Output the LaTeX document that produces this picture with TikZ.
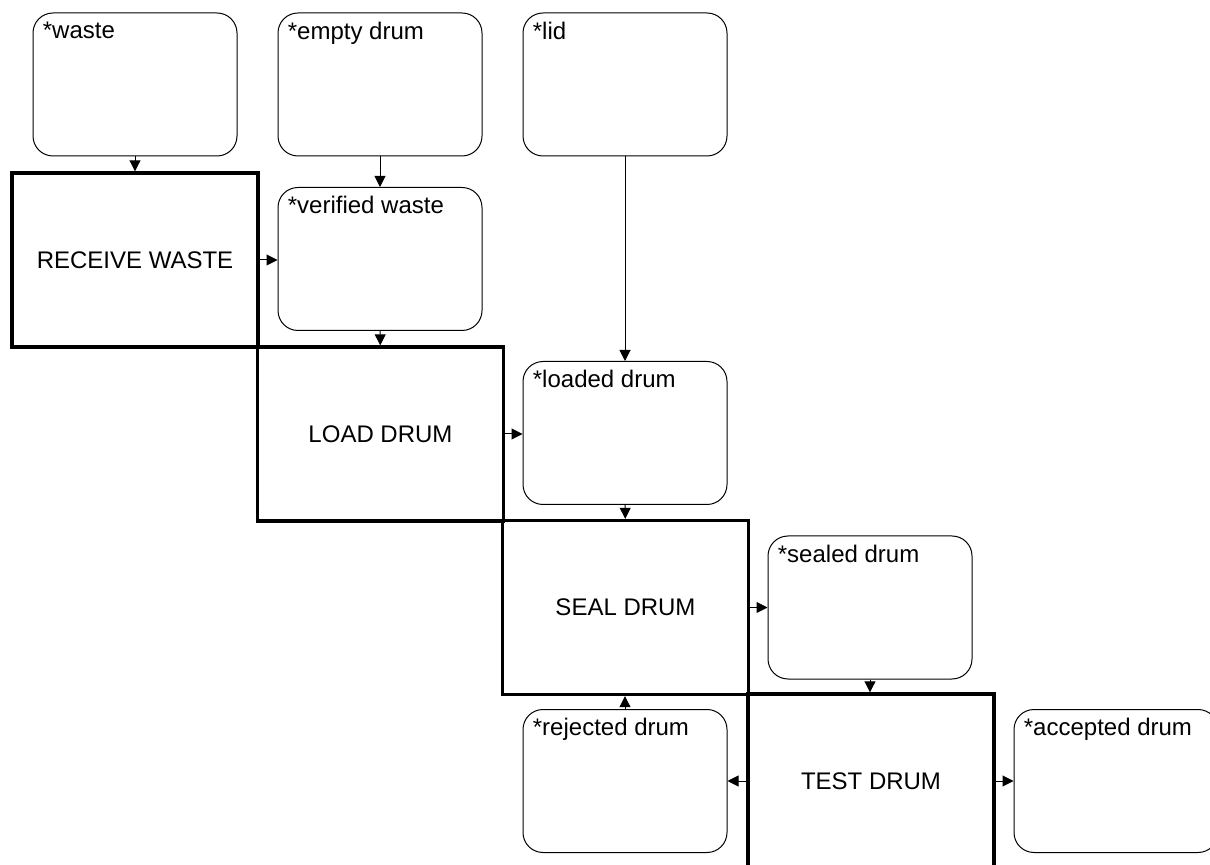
\documentclass[tikz,border=0pt]{standalone}
\usepackage{fontspec}
\setmainfont{Liberation Sans}
\usetikzlibrary{arrows.meta}
\tikzset{
  objbox/.style={draw, line width=0.5pt, rounded corners=10pt, minimum width=102pt, minimum height=71.5pt, inner sep=0pt},
  procbox/.style={draw, line width=1.7pt, minimum width=123pt, minimum height=87pt, inner sep=0pt, font=\fontsize{12}{14}\selectfont},
  objlabel/.style={label={[anchor=north west, inner sep=0pt, xshift=5pt, yshift=-4.5pt, font=\fontsize{12}{14}\selectfont]north west:#1}},
  flow/.style={line width=0.5pt, -{Triangle[length=5.5pt,width=5.5pt]}}
}
\begin{document}
\begin{tikzpicture}[x=0.5pt,y=-0.5pt]
\clip (0,0) rectangle (1210,865);
% object boxes
\node[objbox, objlabel={*waste}] (waste) at (135,84.5) {};
\node[objbox, objlabel={*empty drum}] (empty) at (380,84.5) {};
\node[objbox, objlabel={*lid}] (lid) at (625,84.5) {};
\node[objbox, objlabel={*verified waste}] (verified) at (380,259) {};
\node[objbox, objlabel={*loaded drum}] (loaded) at (625,433) {};
\node[objbox, objlabel={*sealed drum}] (sealed) at (870,607.5) {};
\node[objbox, objlabel={*rejected drum}] (rejected) at (625,781) {};
\node[objbox, objlabel={*accepted drum}] (accepted) at (1116,781) {};
% process boxes
\node[procbox] (receive) at (135,260) {RECEIVE WASTE};
\node[procbox] (load) at (380.5,434) {LOAD DRUM};
\node[procbox] (seal) at (625.5,607.5) {SEAL DRUM};
\node[procbox] (test) at (871,781) {TEST DRUM};
% connectors
\draw[flow] (waste) -- (receive);
\draw[flow] (empty) -- (verified);
\draw[flow] (receive.east) -- (verified.west |- receive.east);
\draw[flow] (verified) -- (load);
\draw[flow] (lid) -- (loaded);
\draw[flow] (load.east) -- (loaded.west |- load.east);
\draw[flow] (loaded) -- (seal);
\draw[flow] (seal.east) -- (sealed.west |- seal.east);
\draw[flow] (sealed.south) -- (sealed.south |- test.north);
\draw[flow] (rejected.north) -- (rejected.north |- seal.south);
\draw[flow] (test.west) -- (rejected.east |- test.west);
\draw[flow] (test.east) -- (accepted.west |- test.east);
\end{tikzpicture}
\end{document}
